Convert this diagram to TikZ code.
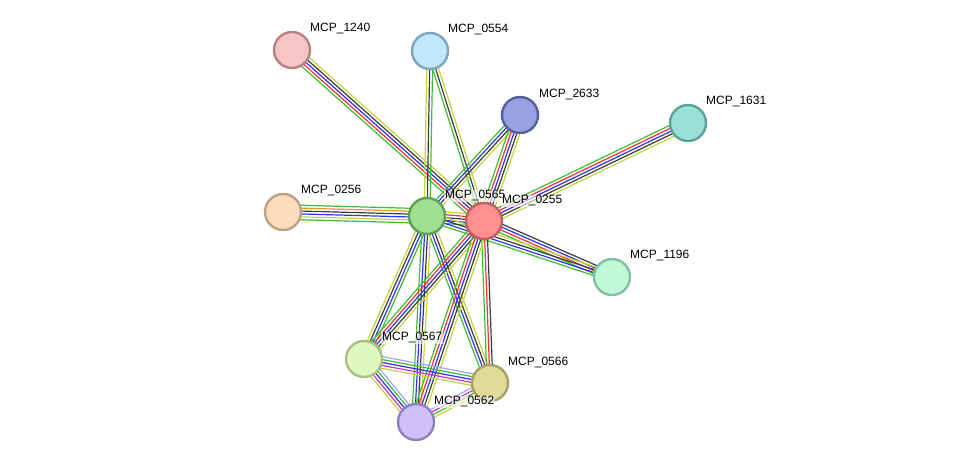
\documentclass[tikz,border=0pt]{standalone}
\usepackage{fontspec}
\setmainfont{Liberation Sans}
\usetikzlibrary{calc,backgrounds}
\definecolor{egr}{RGB}{60,190,50}
\definecolor{ere}{RGB}{250,50,50}
\definecolor{ebl}{RGB}{50,50,250}
\definecolor{ebk}{RGB}{60,60,60}
\definecolor{eye}{RGB}{196,212,60}
\definecolor{ema}{RGB}{210,50,210}
\definecolor{elb}{RGB}{160,168,255}
\definecolor{eor}{RGB}{230,150,40}
\tikzset{
  prot/.style={circle,minimum size=36pt,inner sep=0pt,line width=2.4pt},
  lbl/.style={anchor=west,font=\fontsize{12}{12}\selectfont,inner sep=1pt,
    fill=white,fill opacity=0.6,text opacity=1},
  edgeline/.style={line width=1.2pt}
}
\newcommand\bund[3]{%
  \foreach \c [count=\i] in {#3} {\xdef\bundN{\i}}%
  \foreach \c [count=\i] in {#3} {%
    \pgfmathsetmacro\off{(\i-(\bundN+1)/2)*2.9}%
    \draw[edgeline,draw=\c] ($(#1.center)!\off pt!90:(#2.center)$) -- ($(#2.center)!\off pt!-90:(#1.center)$);
  }}
\begin{document}
\begin{tikzpicture}[x=1pt,y=-1pt]
\useasboundingbox (0,0) rectangle (975,468);
\node[prot,fill={rgb,255:red,246;green,198;blue,198},draw={rgb,255:red,184;green,128;blue,128}] (n1240) at (292,50) {};
\node[prot,fill={rgb,255:red,192;green,232;blue,250},draw={rgb,255:red,123;green,165;blue,192}] (n0554) at (430,51) {};
\node[prot,fill={rgb,255:red,151;green,163;blue,224},draw={rgb,255:red,85;green,96;blue,160}] (n2633) at (520,115) {};
\node[prot,fill={rgb,255:red,152;green,224;blue,216},draw={rgb,255:red,91;green,165;blue,154}] (n1631) at (688,123) {};
\node[prot,fill={rgb,255:red,253;green,220;blue,190},draw={rgb,255:red,192;green,160;blue,128}] (n0256) at (283,212) {};
\node[prot,fill={rgb,255:red,160;green,222;blue,144},draw={rgb,255:red,96;green,160;blue,88}] (n0565) at (427,216) {};
\node[prot,fill={rgb,255:red,255;green,144;blue,144},draw={rgb,255:red,192;green,96;blue,96}] (n0255) at (484,221) {};
\node[prot,fill={rgb,255:red,192;green,248;blue,216},draw={rgb,255:red,128;green,192;blue,160}] (n1196) at (612,277) {};
\node[prot,fill={rgb,255:red,224;green,248;blue,192},draw={rgb,255:red,168;green,192;blue,128}] (n0567) at (364,359) {};
\node[prot,fill={rgb,255:red,224;green,220;blue,152},draw={rgb,255:red,168;green,160;blue,96}] (n0566) at (490,383) {};
\node[prot,fill={rgb,255:red,208;green,192;blue,248},draw={rgb,255:red,144;green,128;blue,192}] (n0562) at (416,422) {};
\begin{scope}[on background layer]
\bund{n1240}{n0255}{egr,ere,ebl,ebk,eye}
\bund{n0554}{n0565}{eye,ebk,egr}
\bund{n0554}{n0255}{egr,ebk,eye}
\bund{n2633}{n0565}{egr,ebl,ebk,eye}
\bund{n2633}{n0255}{egr,ere,ebl,ebk,eye}
\bund{n1631}{n0255}{egr,ere,ebl,ebk,eye}
\bund{n0256}{n0565}{egr,eye,ebl,ebk,eor,egr}
\bund{n0565}{n0255}{egr,ebl,ebk,ere,eye}
\bund{n0255}{n1196}{egr,ere,ebl,ebk}
\bund{n0565}{n1196}{egr,ebl,ebk,eye}
\bund{n0565}{n0567}{eye,ebk,ebl,egr}
\bund{n0565}{n0566}{egr,ebl,ebk,eye}
\bund{n0565}{n0562}{egr,ebl,ebk,eye}
\bund{n0255}{n0567}{egr,ere,ebl,ebk,eye}
\bund{n0255}{n0566}{egr,ere,ebk}
\bund{n0255}{n0562}{egr,ere,ebl,ebk,eye}
\bund{n0567}{n0566}{eye,ema,ebl,egr,elb}
\bund{n0567}{n0562}{eye,ema,ebl,egr,elb}
\bund{n0566}{n0562}{elb,ema,egr,eye}
\end{scope}
\node[lbl] (l1240) at (309,29) {MCP\_1240};
\node[lbl] (l0554) at (447,30) {MCP\_0554};
\node[lbl] (l2633) at (538,95) {MCP\_2633};
\node[lbl] (l1631) at (705,102) {MCP\_1631};
\node[lbl] (l0256) at (300,191) {MCP\_0256};
\node[lbl] (l0565) at (444,196) {MCP\_0565};
\node[lbl] (l0255) at (501,201) {MCP\_0255};
\node[lbl] (l1196) at (629,256) {MCP\_1196};
\node[lbl] (l0567) at (381,338) {MCP\_0567};
\node[lbl] (l0566) at (507,363) {MCP\_0566};
\node[lbl] (l0562) at (433,402) {MCP\_0562};
\end{tikzpicture}
\end{document}
